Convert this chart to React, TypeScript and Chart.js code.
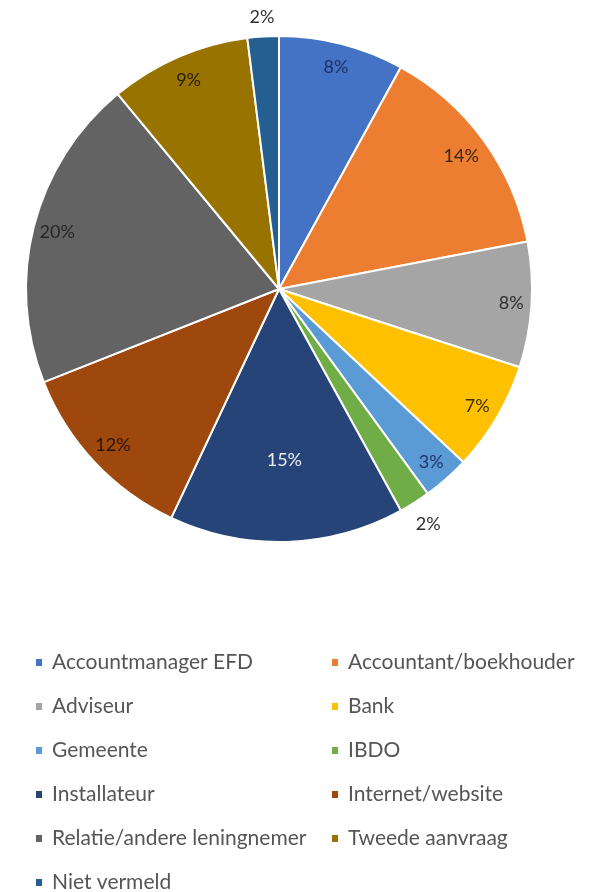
import React, { useEffect, useRef } from "react";
import { Chart, registerables } from "chart.js";

Chart.register(...registerables);

const categories = [
  "Accountmanager EFD",
  "Accountant/boekhouder",
  "Adviseur",
  "Bank",
  "Gemeente",
  "IBDO",
  "Installateur",
  "Internet/website",
  "Relatie/andere leningnemer",
  "Tweede aanvraag",
  "Niet vermeld",
];
const percentages = [8, 14, 8, 7, 3, 2, 15, 12, 20, 9, 2];
const sliceColors = [
  "#4472C4",
  "#ED7D31",
  "#A5A5A5",
  "#FFC000",
  "#5B9BD5",
  "#70AD47",
  "#264478",
  "#9E480E",
  "#636363",
  "#997300",
  "#255E91",
];
const labelColors = [
  "#1F3268",
  "#3A2414",
  "#2E2E2E",
  "#3A3010",
  "#1F3268",
  "#303030",
  "#EDEDF4",
  "#2A1406",
  "#262626",
  "#2A2006",
  "#303030",
];
// radial position of each data label as a fraction of the radius
const labelRadius = [0.905, 0.89, 0.92, 0.91, 0.91, 1.1, 0.675, 0.9, 0.905, 0.9, 1.075];

const FONT = "Lato, 'Open Sans', sans-serif";

const pieLabelsPlugin = {
  id: "pieLabels",
  afterDatasetsDraw(chart: any) {
    const ctx = chart.ctx;
    const meta = chart.getDatasetMeta(0);
    ctx.save();
    ctx.font = `18px ${FONT}`;
    ctx.textAlign = "center";
    ctx.textBaseline = "middle";
    meta.data.forEach((arc: any, i: number) => {
      const mid = (arc.startAngle + arc.endAngle) / 2;
      const r = arc.outerRadius * labelRadius[i];
      const x = arc.x + Math.cos(mid) * r;
      const y = arc.y + Math.sin(mid) * r;
      ctx.fillStyle = labelColors[i];
      ctx.fillText(`${percentages[i]}%`, x, y);
    });
    ctx.restore();
  },
};

const legendPlugin = {
  id: "gridLegend",
  afterDraw(chart: any) {
    const ctx = chart.ctx;
    const labels = chart.data.labels as string[];
    const colors = chart.data.datasets[0].backgroundColor as string[];
    const colX = [36, 332];
    const rowY0 = 662;
    const rowStep = 44;
    ctx.save();
    ctx.font = `21px ${FONT}`;
    ctx.textBaseline = "middle";
    ctx.textAlign = "left";
    labels.forEach((lab, i) => {
      const col = i % 2;
      const row = Math.floor(i / 2);
      const x = colX[col];
      const y = rowY0 + row * rowStep;
      ctx.fillStyle = colors[i];
      ctx.fillRect(x, y - 3, 6, 7);
      ctx.fillStyle = "#555555";
      ctx.fillText(lab, x + 16, y);
    });
    ctx.restore();
  },
};

export default function App() {
  const ref = useRef<HTMLCanvasElement | null>(null);
  useEffect(() => {
    if (!ref.current) return;
    const chart = new Chart(ref.current, {
      type: "pie",
      data: {
        labels: categories,
        datasets: [
          {
            data: percentages,
            backgroundColor: sliceColors,
            borderColor: "#ffffff",
            borderWidth: 2,
          },
        ],
      },
      options: {
        animation: false,
        responsive: false,
        rotation: 0,
        layout: { padding: { left: 25, top: 35, right: 64, bottom: 349 } },
        plugins: {
          legend: { display: false },
          tooltip: { enabled: false },
          title: { display: false },
        },
      },
      plugins: [pieLabelsPlugin, legendPlugin],
    });
    return () => chart.destroy();
  }, []);
  return (
    <div style={{ position: "fixed", left: 0, top: 0, width: 597, height: 892, background: "#ffffff" }}>
      <canvas ref={ref} width={597} height={892} style={{ width: 597, height: 892 }} />
    </div>
  );
}
